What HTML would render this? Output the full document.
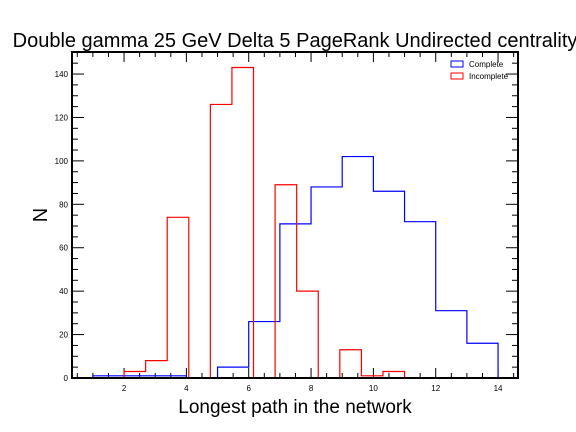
<!DOCTYPE html>
<html><head><meta charset="utf-8"><style>
body{margin:0;background:#fff}
svg{display:block;font-family:"Liberation Sans",Arial,sans-serif}
</style></head><body>
<svg id="chart" width="576" height="432" viewBox="0 0 576 432">
<text x="295" y="47" font-size="20" text-anchor="middle">Double gamma 25 GeV Delta 5 PageRank Undirected centrality</text>
<text x="295" y="413" font-size="19" text-anchor="middle">Longest path in the network</text>
<text transform="translate(47,215) rotate(-90)" font-size="20" text-anchor="middle">N</text>
<g id="ticks"></g>
<g id="series"></g>
<rect x="72" y="52" width="446" height="326" fill="none" stroke="#000" stroke-width="2"/>
<g>
<rect x="451" y="61" width="12" height="6" fill="none" stroke="#00f" stroke-width="1"/>
<text x="469" y="67" font-size="8">Complete</text>
<rect x="451" y="73" width="12" height="6" fill="none" stroke="#f00" stroke-width="1"/>
<text x="469" y="79" font-size="8">Incomplete</text>
</g>
</svg>
<script>
const completeEdges=[1,2,3,4,5,6,7,8,9,10,11,12,13,14];
const completeValues=[1,1,1,0,5,26,71,88,102,86,72,31,16];
const incompleteStart=2, incompleteEnd=11;
const incompleteValues=[3,8,74,0,126,143,0,89,40,0,13,1,3];
const xTickLabels=[2,4,6,8,10,12,14];
const yTickLabels=[0,20,40,60,80,100,120,140];
const X0=0.33,X1=14.64,Y0=0,Y1=150.15;
const L=72,R=518,T=52,B=378;
const sx=v=>L+(v-X0)/(X1-X0)*(R-L);
const sy=v=>B-(v-Y0)/(Y1-Y0)*(B-T);
const NS="http://www.w3.org/2000/svg";
const tg=document.getElementById('ticks'),sg=document.getElementById('series');
function line(x1,y1,x2,y2,name){const l=document.createElementNS(NS,'line');
l.setAttribute('x1',x1);l.setAttribute('y1',y1);l.setAttribute('x2',x2);l.setAttribute('y2',y2);
l.setAttribute('stroke','#000');l.setAttribute('stroke-width','1');


tg.appendChild(l);}
for(let v=0.5;v<=14.5;v+=0.5){const x=sx(v);const maj=(v%2===0);const len=maj?10:5;
line(x,B,x,B-len,'x-tick');line(x,T,x,T+len,'x-tick-top');}
for(let v=0;v<=150;v+=5){const y=sy(v);const maj=(v%20===0);const len=maj?12:6;
line(L,y,L+len,y,'y-tick');line(R,y,R-len,y,'y-tick-right');}
xTickLabels.forEach(v=>{const t=document.createElementNS(NS,'text');t.textContent=v;
t.setAttribute('x',sx(v));t.setAttribute('y',B+13);t.setAttribute('font-size','8');t.setAttribute('text-anchor','middle');


tg.appendChild(t);});
yTickLabels.forEach(v=>{const t=document.createElementNS(NS,'text');t.textContent=v;
t.setAttribute('x',L-4);t.setAttribute('y',sy(v)+3);t.setAttribute('font-size','8');t.setAttribute('text-anchor','end');


tg.appendChild(t);});
function hist(edges,vals,color,name){let d='M'+sx(edges[0])+','+sy(0);
vals.forEach((v,i)=>{d+=' L'+sx(edges[i])+','+sy(v)+' L'+sx(edges[i+1])+','+sy(v);});
d+=' L'+sx(edges[edges.length-1])+','+sy(0);
const p=document.createElementNS(NS,'path');p.setAttribute('d',d);p.setAttribute('fill','none');
p.setAttribute('stroke',color);p.setAttribute('stroke-width','1.2');


sg.appendChild(p);}
const incEdges=[];for(let i=0;i<=incompleteValues.length;i++)incEdges.push(incompleteStart+i*(incompleteEnd-incompleteStart)/incompleteValues.length);
hist(completeEdges,completeValues,'#00f','complete-histogram');
hist(incEdges,incompleteValues,'#f00','incomplete-histogram');
</script>
</body></html>
